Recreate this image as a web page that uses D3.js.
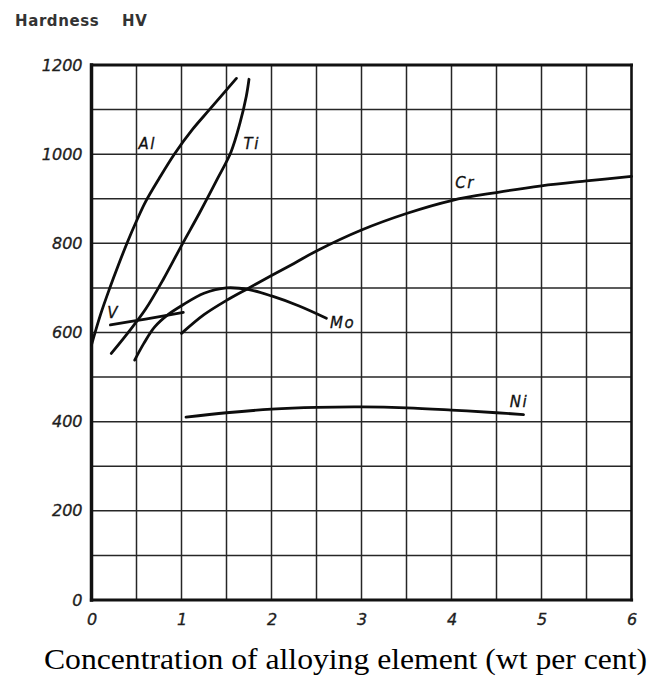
<!DOCTYPE html>
<html>
<head>
<meta charset="utf-8">
<script src="https://cdn.jsdelivr.net/npm/d3@7"></script>
<style>
  html, body { margin: 0; padding: 0; background: #fff; }
  svg { display: block; }
  .tick-label { font-family: "DejaVu Sans", sans-serif; font-style: italic; font-size: 16px; fill: #1e1e1e; stroke: #1e1e1e; stroke-width: 0.35px; }
  .curve-label { font-family: "DejaVu Sans", sans-serif; font-style: italic; font-size: 15px; fill: #111; stroke: #111; stroke-width: 0.3px; }
</style>
</head>
<body>
<svg id="chart" width="654" height="677"></svg>
<script>
// Hardness (HV) of nitrided layers versus alloying element content (wt %)
const xTicks = [0, 1, 2, 3, 4, 5, 6];
const yTicks = [0, 200, 400, 600, 800, 1000, 1200];

const alX = [0, 0.1, 0.2, 0.3, 0.4, 0.5, 0.6, 0.75, 0.92, 1.12, 1.32, 1.61];
const alY = [572, 640, 698, 752, 803, 850, 893, 945, 1000, 1055, 1102, 1170];

const tiX = [0.22, 0.4, 0.6, 0.8, 1.0, 1.2, 1.4, 1.55, 1.65, 1.72, 1.75];
const tiY = [553, 598, 652, 720, 795, 868, 945, 1005, 1070, 1130, 1168];

const vX = [0.21, 0.6, 1.02];
const vY = [617, 630, 645];

const moX = [0.48, 0.58, 0.7, 0.85, 1.0, 1.25, 1.5, 1.75, 2.0, 2.3, 2.61];
const moY = [538, 575, 612, 640, 660, 688, 700, 696, 682, 660, 632];

const crX = [1.0, 1.25, 1.5, 1.75, 2.0, 2.25, 2.5, 3.0, 3.5, 4.0, 4.5, 5.0, 5.5, 6.0];
const crY = [598, 640, 672, 700, 728, 755, 783, 830, 867, 896, 914, 929, 940, 950];

const niX = [1.05, 1.5, 2.0, 2.5, 3.0, 3.5, 4.0, 4.5, 4.8];
const niY = [410, 420, 428, 432, 433, 431, 426, 420, 416];

const seriesNames = ["Al", "Ti", "V", "Mo", "Cr", "Ni"];
const seriesX = [alX, tiX, vX, moX, crX, niX];
const seriesY = [alY, tiY, vY, moY, crY, niY];

// where each curve's name is written, in data units
const labelX = [0.62, 1.78, 0.24, 2.79, 4.15, 4.75];
const labelY = [1023, 1023, 643, 621, 935, 443];

const svg = d3.select("#chart");

const x = d3.scaleLinear().domain([0, 6]).range([91.5, 631.5]);
const y = d3.scaleLinear().domain([0, 1200]).range([600, 65]);

// grid
const grid = svg.append("g").attr("stroke", "#262626").attr("stroke-width", 1.5);
grid.selectAll("line.v").data(d3.range(1, 12).map(i => i * 0.5)).join("line")
  .attr("class", "v")
  .attr("x1", d => x(d)).attr("x2", d => x(d))
  .attr("y1", y(0)).attr("y2", y(1200));
grid.selectAll("line.h").data(d3.range(1, 12).map(i => i * 100)).join("line")
  .attr("class", "h")
  .attr("x1", x(0)).attr("x2", x(6))
  .attr("y1", d => y(d)).attr("y2", d => y(d));

// frame
const frame = svg.append("g").attr("stroke", "#111").attr("fill", "none").attr("stroke-linecap", "square");
frame.append("line").attr("x1", x(0)).attr("x2", x(0)).attr("y1", y(0)).attr("y2", y(1200)).attr("stroke-width", 3.5);
frame.append("line").attr("x1", x(0)).attr("x2", x(6)).attr("y1", y(0)).attr("y2", y(0)).attr("stroke-width", 3.2);
frame.append("line").attr("x1", x(0)).attr("x2", x(6)).attr("y1", y(1200)).attr("y2", y(1200)).attr("stroke-width", 3);
frame.append("line").attr("x1", x(6)).attr("x2", x(6)).attr("y1", y(0)).attr("y2", y(1200)).attr("stroke-width", 2.6);

// axes (labels only, no domain or tick marks)
const yAxis = d3.axisLeft(y).tickValues(yTicks).tickSize(0).tickPadding(9).tickFormat(d3.format("d"));
const gy = svg.append("g").attr("transform", `translate(${x(0)},0)`).call(yAxis);
gy.select(".domain").remove();
gy.selectAll("text").attr("class", "tick-label").attr("font-size", null).attr("font-family", null);

const xAxis = d3.axisBottom(x).tickValues(xTicks).tickSize(0).tickPadding(14).tickFormat(d3.format("d"));
const gx = svg.append("g").attr("transform", `translate(0,${y(0)})`).call(xAxis);
gx.select(".domain").remove();
gx.selectAll("text").attr("class", "tick-label").attr("font-size", null).attr("font-family", null);

// curves
const line = d3.line()
  .x(d => x(d[0]))
  .y(d => y(d[1]))
  .curve(d3.curveCatmullRom.alpha(0.5));

const series = seriesNames.map((name, i) => ({
  name,
  points: seriesX[i].map((v, j) => [v, seriesY[i][j]]),
  lx: labelX[i],
  ly: labelY[i]
}));

svg.append("g").selectAll("path").data(series).join("path")
  .attr("d", d => line(d.points))
  .attr("fill", "none")
  .attr("stroke", "#0d0d0d")
  .attr("stroke-width", 2.8)
  .attr("stroke-linecap", "round");

svg.append("g").selectAll("text").data(series).join("text")
  .attr("class", "curve-label")
  .attr("x", d => x(d.lx))
  .attr("y", d => y(d.ly))
  .attr("text-anchor", "middle")
  .attr("dominant-baseline", "central")
  .attr("letter-spacing", 1.5)
  .text(d => d.name);

// titles
const titleFont = sel => sel
  .attr("font-family", "DejaVu Sans, sans-serif")
  .attr("font-weight", "bold")
  .attr("font-size", 15)
  .attr("letter-spacing", 0.6)
  .attr("fill", "#333");
svg.append("text").attr("x", 15).attr("y", 26).call(titleFont).text("Hardness");
svg.append("text").attr("x", 122).attr("y", 26).call(titleFont).text("HV");

svg.append("text")
  .attr("x", 44).attr("y", 669)
  .attr("font-family", "Liberation Serif, Times New Roman, serif")
  .attr("font-size", 30)
  .attr("fill", "#000")
  .attr("textLength", 603)
  .attr("lengthAdjust", "spacingAndGlyphs")
  .text("Concentration of alloying element (wt per cent)");
</script>
</body>
</html>
